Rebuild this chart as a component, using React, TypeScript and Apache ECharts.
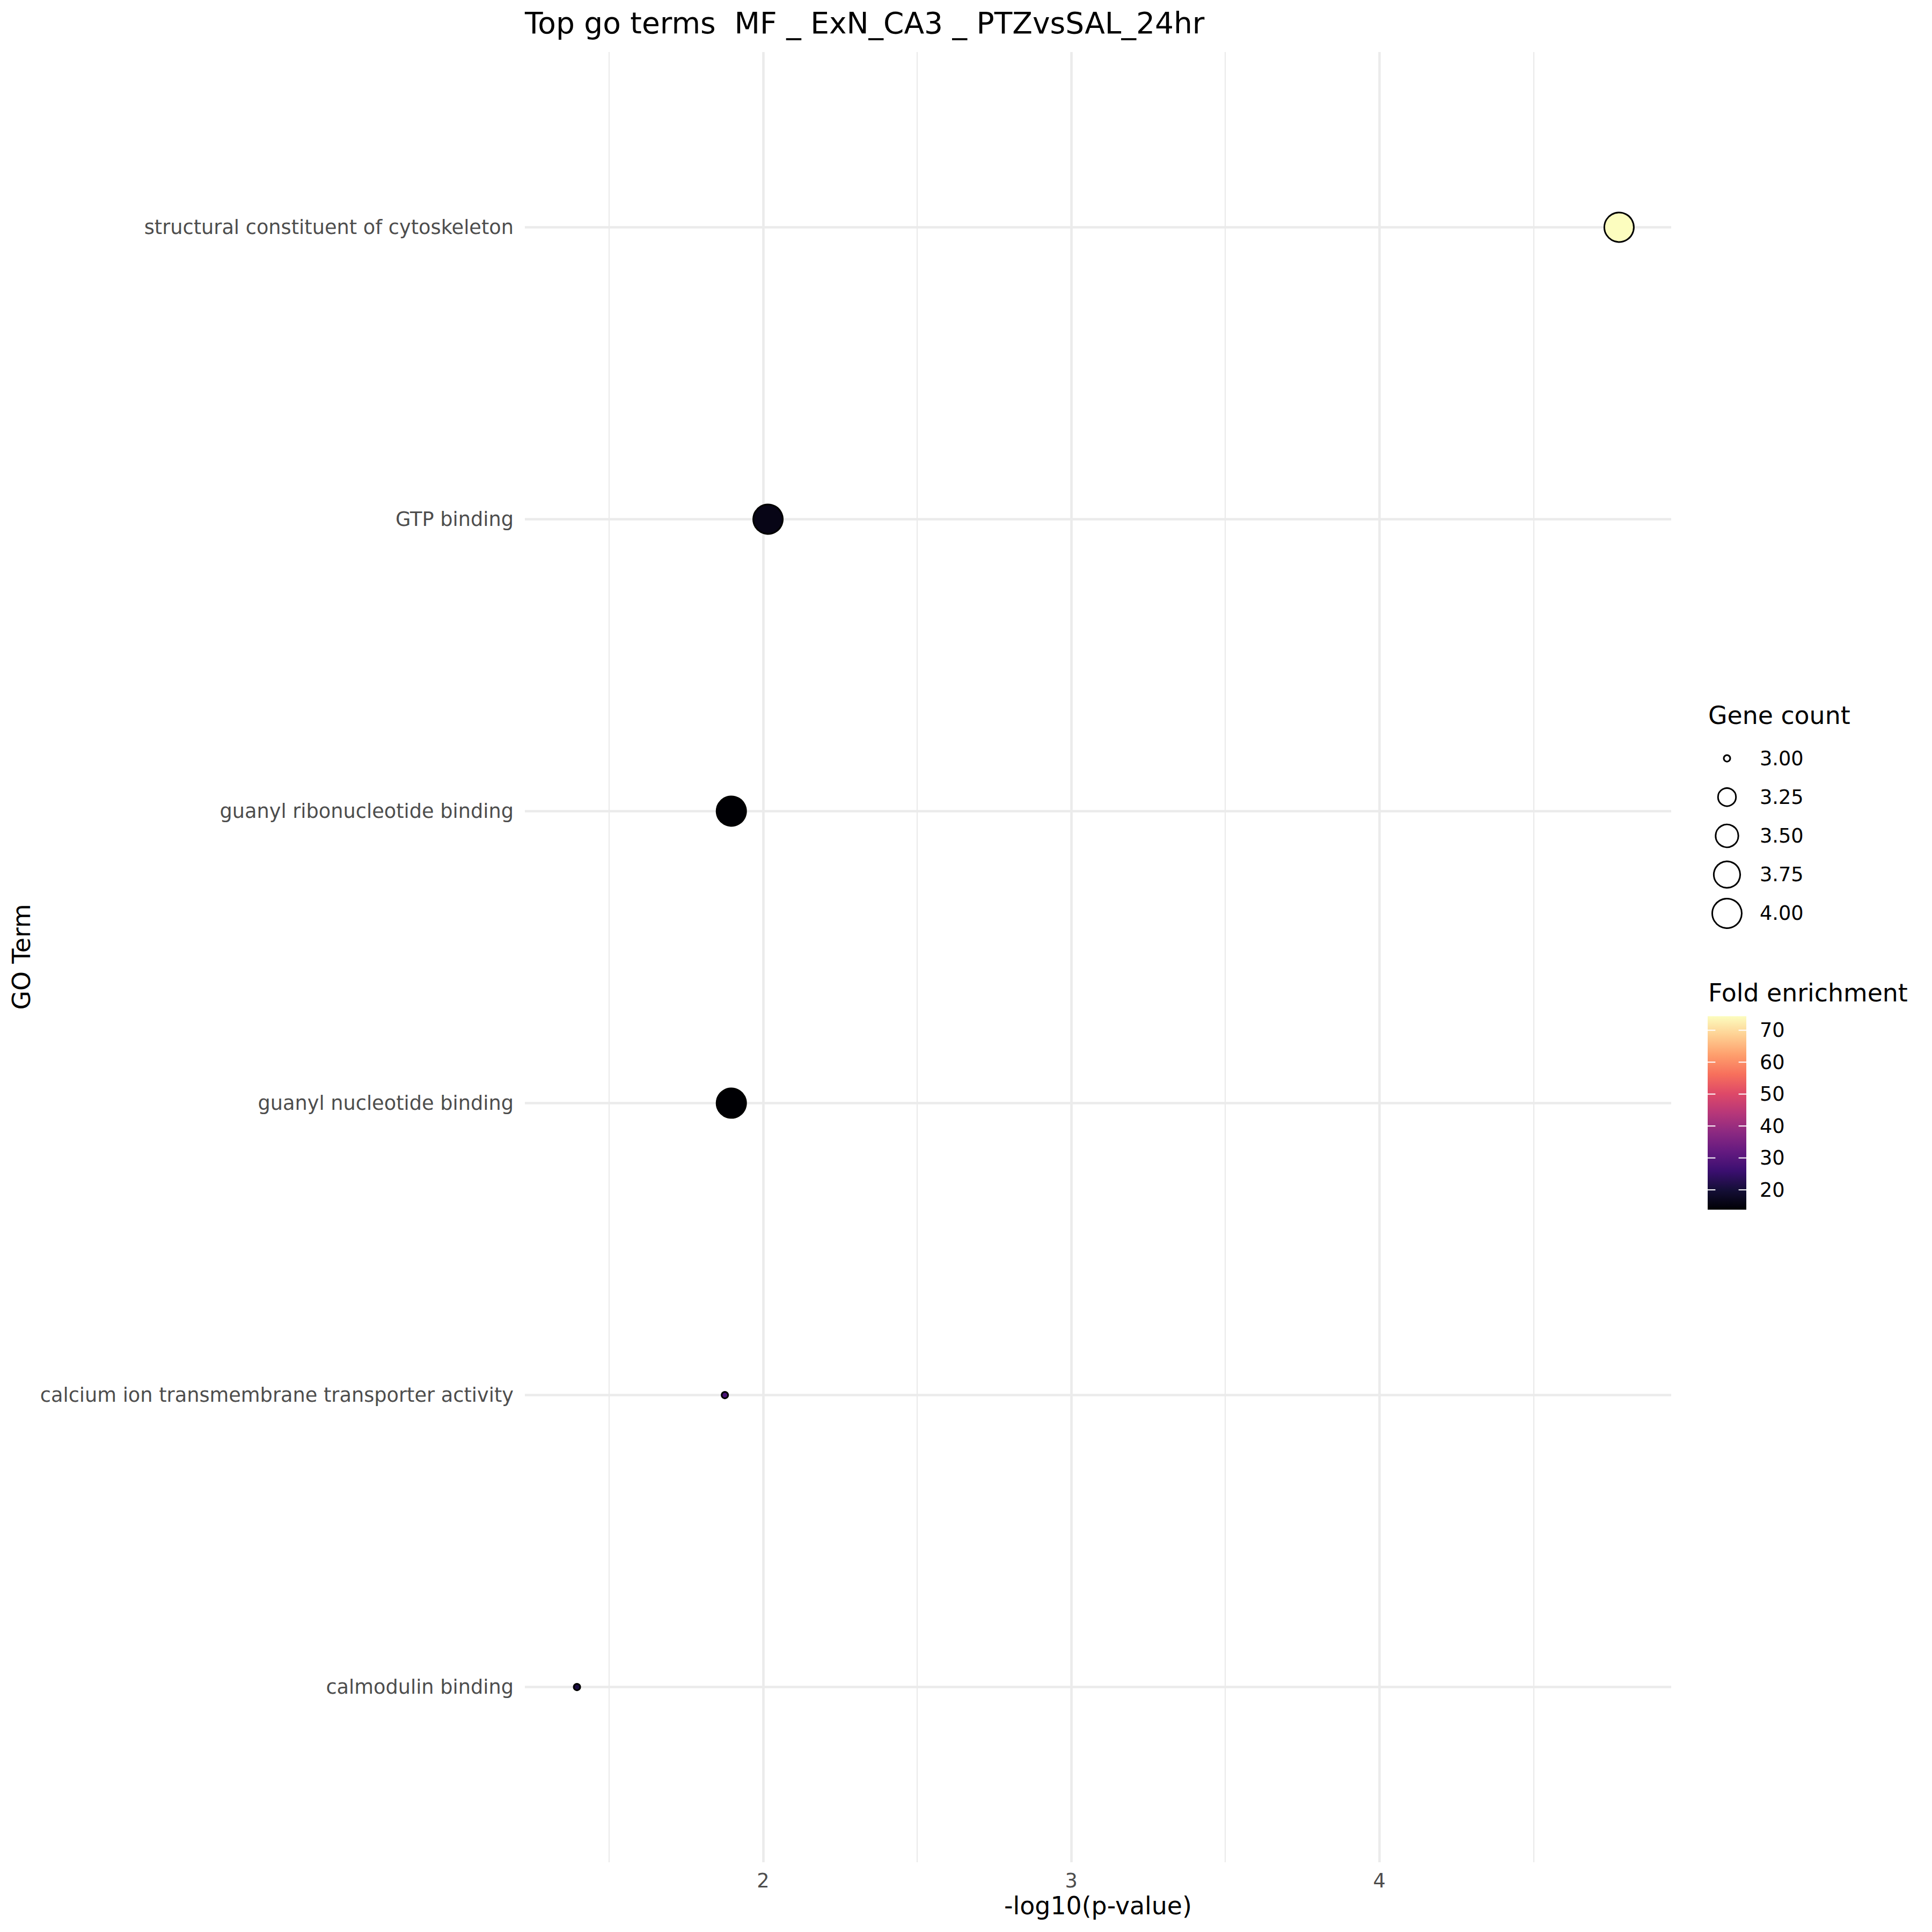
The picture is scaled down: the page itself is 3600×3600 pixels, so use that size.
import React, { useEffect, useRef } from 'react';
import * as echarts from 'echarts';

// ---- data ----
const terms = [
  'structural constituent of cytoskeleton',
  'GTP binding',
  'guanyl ribonucleotide binding',
  'guanyl nucleotide binding',
  'calcium ion transmembrane transporter activity',
  'calmodulin binding',
];
const negLog10P = [4.778, 2.016, 1.897, 1.897, 1.876, 1.396];
const geneCount = [4, 4, 4, 4, 3, 3];
const foldEnrichment = [74.4, 16.0, 13.8, 13.8, 27.7, 21.0];

const xTicks = [2, 3, 4];
const xMinorTicks = [1.5, 2.5, 3.5, 4.5];
const sizeBreaks = [3.0, 3.25, 3.5, 3.75, 4.0];
const colorBreaks = [20, 30, 40, 50, 60, 70];
const magma = [
  '#000004', '#140E36', '#3B0F70', '#641A80', '#8C2981', '#B73779',
  '#DE4968', '#F7705C', '#FE9F6D', '#FECF92', '#FCFDBF',
];

const FONT = 'DejaVu Sans';

export default function App() {
  const ref = useRef<HTMLDivElement>(null);

  useEffect(() => {
    if (!ref.current) return;
    const chart = echarts.init(ref.current, undefined, { renderer: 'svg' });

    const xLo = Math.min(...negLog10P);
    const xHi = Math.max(...negLog10P);
    const xr = xHi - xLo;
    const xMin = xLo - 0.05 * xr;
    const xMax = xHi + 0.05 * xr;

    const cMin = Math.min(...foldEnrichment);
    const cMax = Math.max(...foldEnrichment);
    const sMin = Math.min(...geneCount);
    const sMax = Math.max(...geneCount);
    const sizeFn = (v: number) => 12 + 43 * Math.sqrt(Math.max(0, (v - sMin) / (sMax - sMin)));

    const yIdx = terms.map((_, i) => i + 1);

    const option: any = {
      animation: false,
      backgroundColor: '#ffffff',
      textStyle: { fontFamily: FONT },
      grid: [
        { left: 978, top: 97, width: 2136, height: 3373, containLabel: false },
        { left: 3182, top: 1377, width: 72, height: 361, containLabel: false },
        { left: 3182, top: 1893.5, width: 72, height: 360.5, containLabel: false },
      ],
      xAxis: [
        {
          gridIndex: 0,
          type: 'value',
          min: xMin,
          max: xMax,
          axisLine: { show: false },
          axisTick: { show: false, customValues: xTicks },
          axisLabel: {
            customValues: xTicks,
            margin: 34,
            verticalAlign: 'middle',
            fontSize: 36.7,
            color: '#4D4D4D',
            fontFamily: FONT,
          },
          splitLine: { show: true, lineStyle: { color: '#EBEBEB', width: 4.6 } },
          name: '-log10(p-value)',
          nameLocation: 'middle',
          nameGap: 81,
          nameTextStyle: { fontSize: 45.8, color: '#000000', fontFamily: FONT, verticalAlign: 'middle' },
        },
        {
          gridIndex: 0,
          type: 'value',
          position: 'bottom',
          min: xMin,
          max: xMax,
          axisLine: { show: false },
          axisTick: { show: false, customValues: xMinorTicks },
          axisLabel: { show: false, customValues: xMinorTicks },
          splitLine: { show: true, lineStyle: { color: '#EBEBEB', width: 2.3 } },
        },
        { gridIndex: 1, type: 'value', min: -1, max: 1, show: false },
        { gridIndex: 2, type: 'value', min: 0, max: 1, show: false },
      ],
      yAxis: [
        {
          gridIndex: 0,
          type: 'value',
          inverse: true,
          min: 0.4,
          max: terms.length + 0.6,
          axisLine: { show: false },
          axisTick: { show: false, customValues: yIdx },
          axisLabel: {
            customValues: yIdx,
            formatter: (v: number) => terms[Math.round(v) - 1] ?? '',
            margin: 21,
            fontSize: 36.7,
            color: '#4D4D4D',
            fontFamily: FONT,
          },
          splitLine: { show: true, lineStyle: { color: '#EBEBEB', width: 4.6 } },
        },
        {
          gridIndex: 1,
          type: 'category',
          data: sizeBreaks.map((b) => b.toFixed(2)),
          inverse: true,
          position: 'right',
          axisLine: { show: false },
          axisTick: { show: false },
          axisLabel: { margin: 25, fontSize: 36.7, color: '#000000', fontFamily: FONT },
          splitLine: { show: false },
        },
        {
          gridIndex: 2,
          type: 'value',
          min: cMin,
          max: cMax,
          position: 'right',
          axisLine: { show: false },
          axisTick: { show: false, customValues: colorBreaks },
          axisLabel: { customValues: colorBreaks, margin: 25, fontSize: 36.7, color: '#000000', fontFamily: FONT },
          splitLine: { show: false },
        },
      ],
      visualMap: {
        show: false,
        type: 'continuous',
        seriesIndex: 0,
        dimension: 3,
        min: cMin,
        max: cMax,
        inRange: { color: magma },
      },
      series: [
        {
          type: 'scatter',
          xAxisIndex: 0,
          yAxisIndex: 0,
          data: terms.map((t, i) => [negLog10P[i], i + 1, geneCount[i], foldEnrichment[i], t]),
          symbol: 'circle',
          symbolSize: (v: number[]) => sizeFn(v[2]),
          itemStyle: { borderColor: '#000000', borderWidth: 3, opacity: 1 },
          z: 5,
        },
        {
          type: 'scatter',
          xAxisIndex: 2,
          yAxisIndex: 1,
          data: sizeBreaks.map((b) => [0, b.toFixed(2), b]),
          symbol: 'circle',
          symbolSize: (v: any[]) => sizeFn(v[2]),
          itemStyle: { color: '#ffffff', borderColor: '#000000', borderWidth: 3, opacity: 1 },
        },
        {
          type: 'custom',
          xAxisIndex: 3,
          yAxisIndex: 2,
          data: [[0.5, (cMin + cMax) / 2]],
          renderItem: (params: any) => {
            const cs = params.coordSys;
            return {
              type: 'rect',
              shape: { x: cs.x, y: cs.y, width: cs.width, height: cs.height },
              style: {
                fill: new echarts.graphic.LinearGradient(
                  0, 1, 0, 0,
                  magma.map((c, i) => ({ offset: i / (magma.length - 1), color: c }))
                ),
              },
            };
          },
        },
        {
          type: 'custom',
          xAxisIndex: 3,
          yAxisIndex: 2,
          data: colorBreaks.map((b) => [0.5, b]),
          z: 3,
          renderItem: (params: any, api: any) => {
            const cs = params.coordSys;
            const p = api.coord([0.5, api.value(1)]);
            const tl = cs.width / 5;
            const st = { stroke: '#ffffff', lineWidth: 2 };
            return {
              type: 'group',
              children: [
                { type: 'line', shape: { x1: cs.x, y1: p[1], x2: cs.x + tl, y2: p[1] }, style: st },
                { type: 'line', shape: { x1: cs.x + cs.width - tl, y1: p[1], x2: cs.x + cs.width, y2: p[1] }, style: st },
              ],
            };
          },
        },
      ],
      graphic: [
        {
          type: 'text',
          x: 978,
          y: 43,
          style: {
            text: 'Top go terms  MF _ ExN_CA3 _ PTZvsSAL_24hr',
            fontSize: 55,
            fontFamily: FONT,
            fill: '#000000',
            align: 'left',
            verticalAlign: 'middle',
          },
        },
        {
          type: 'text',
          x: 40,
          y: 1783,
          rotation: Math.PI / 2,
          style: {
            text: 'GO Term',
            fontSize: 45.8,
            fontFamily: FONT,
            fill: '#000000',
            align: 'center',
            verticalAlign: 'middle',
          },
        },
        {
          type: 'text',
          x: 3183,
          y: 1333,
          style: {
            text: 'Gene count',
            fontSize: 45.8,
            fontFamily: FONT,
            fill: '#000000',
            align: 'left',
            verticalAlign: 'middle',
          },
        },
        {
          type: 'text',
          x: 3183,
          y: 1850,
          style: {
            text: 'Fold enrichment',
            fontSize: 45.8,
            fontFamily: FONT,
            fill: '#000000',
            align: 'left',
            verticalAlign: 'middle',
          },
        },
      ],
    };

    chart.setOption(option);
    return () => chart.dispose();
  }, []);

  return (
    <div
      ref={ref}
      style={{ position: 'absolute', left: 0, top: 0, width: 3600, height: 3600, background: '#ffffff' }}
    />
  );
}
